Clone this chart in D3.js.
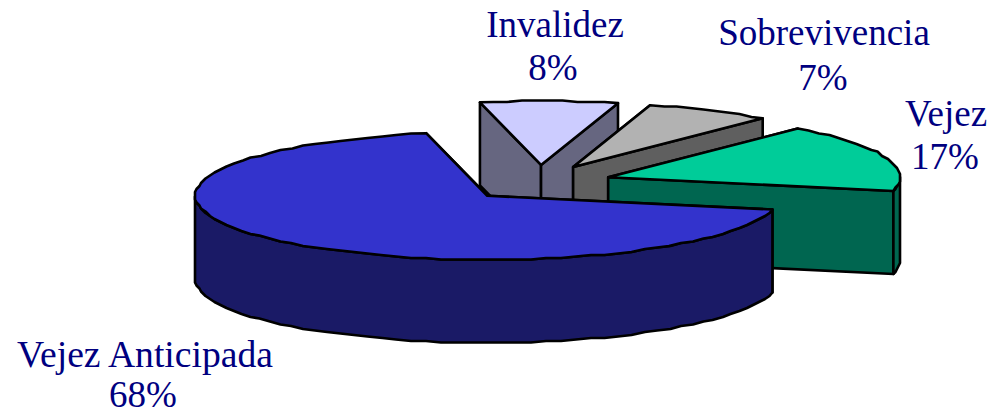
<!DOCTYPE html>
<html><head><meta charset="utf-8">
<script src="https://cdn.jsdelivr.net/npm/d3@7/dist/d3.min.js"></script>
<style>html,body{margin:0;padding:0;background:#fff}svg{display:block}</style>
</head><body><svg id="c" width="996" height="415"></svg>
<script>
const categories = ["Vejez Anticipada","Invalidez","Sobrevivencia","Vejez"];
const shares = [68.2,7.6,7.0,17.2];
const percentLabels = ["68%","8%","7%","17%"];
const topColors = ["#3333CC","#CCCCFF","#B2B2B2","#00CC99"];
const wallColors = ["#1A1A66","#666680","#5F5F5F","#006650"];

// layout
const W=996,H=415, cx=539, cy=183, rx=292, ry=64, depth=83, explode=73, explodeY=0.248;
const labelPos = [[145,367,143,406.5],[555,37,553,80],[824,45,823,90],[946,126,945,169]];
const startDeg = 102.4;
const rad = Math.PI/180, grid = 1.5;

const pie = d3.pie().sort(null).value(d=>d).startAngle(startDeg*rad).endAngle((startDeg+360)*rad);
const arcs = pie(shares);
const svg = d3.select("#c");
const line = d3.line().curve(d3.curveLinear);

// elliptical projection of a pie angle
const px = a => rx*Math.sin(a), py = a => -ry*Math.cos(a);
const snap = v => Math.round(v/grid)*grid;
function sample(a0,a1){
  const n=Math.max(1,Math.ceil((a1-a0)/(3*rad)));
  return d3.range(n+1).map(i=>a0+(a1-a0)*i/n);
}
const drawOrder=[1,2,3,0];
drawOrder.forEach(i=>{
  const d=arcs[i], mid=(d.startAngle+d.endAngle)/2;
  const ox=cx+explode*Math.sin(mid), oy=cy-explode*explodeY*Math.cos(mid);
  const P=a=>[ox+px(a),oy+py(a)];
  const Q=a=>{const p=P(a);return (a===d.startAngle||a===d.endAngle)?p:[snap(p[0]),snap(p[1])];};
  const down=p=>[p[0],p[1]+depth];
  const g=svg.append("g");
  const face=(pts,fill)=>{
    g.append("path").attr("d",line(pts)+"Z").attr("fill",fill)
      .attr("stroke","#000").attr("stroke-width",2.6).attr("stroke-linejoin","round");
  };
  const apex=[ox,oy];
  // radial walls
  [d.startAngle,d.endAngle].forEach(a=>{
    const e=P(a);
    face([apex,e,down(e),down(apex)],wallColors[i]);
  });
  // outer wall: visible on the front half of the ellipse
  [[90,270],[450,630]].forEach(([a,b])=>{
    const l=Math.max(a*rad,d.startAngle),h=Math.min(b*rad,d.endAngle);
    if(h>l){
      const pts=sample(l,h).map(Q);
      face(pts.concat(pts.map(down).reverse()),wallColors[i]);
    }
  });
  // top surface
  face([apex].concat(sample(d.startAngle,d.endAngle).map(Q)),topColors[i]);
});

const font="'Liberation Serif','Times New Roman',serif";
const label=(x,y,t)=>svg.append("text").attr("x",x).attr("y",y).attr("text-anchor","middle")
    .attr("font-family",font).attr("font-size",37).attr("fill","#000080").text(t);
categories.forEach((c,i)=>{
  const [x1,y1,x2,y2]=labelPos[i];
  label(x1,y1,c).attr("textLength",i===0?256:null).attr("lengthAdjust","spacingAndGlyphs");
  label(x2,y2,percentLabels[i]);
});
</script></body></html>
